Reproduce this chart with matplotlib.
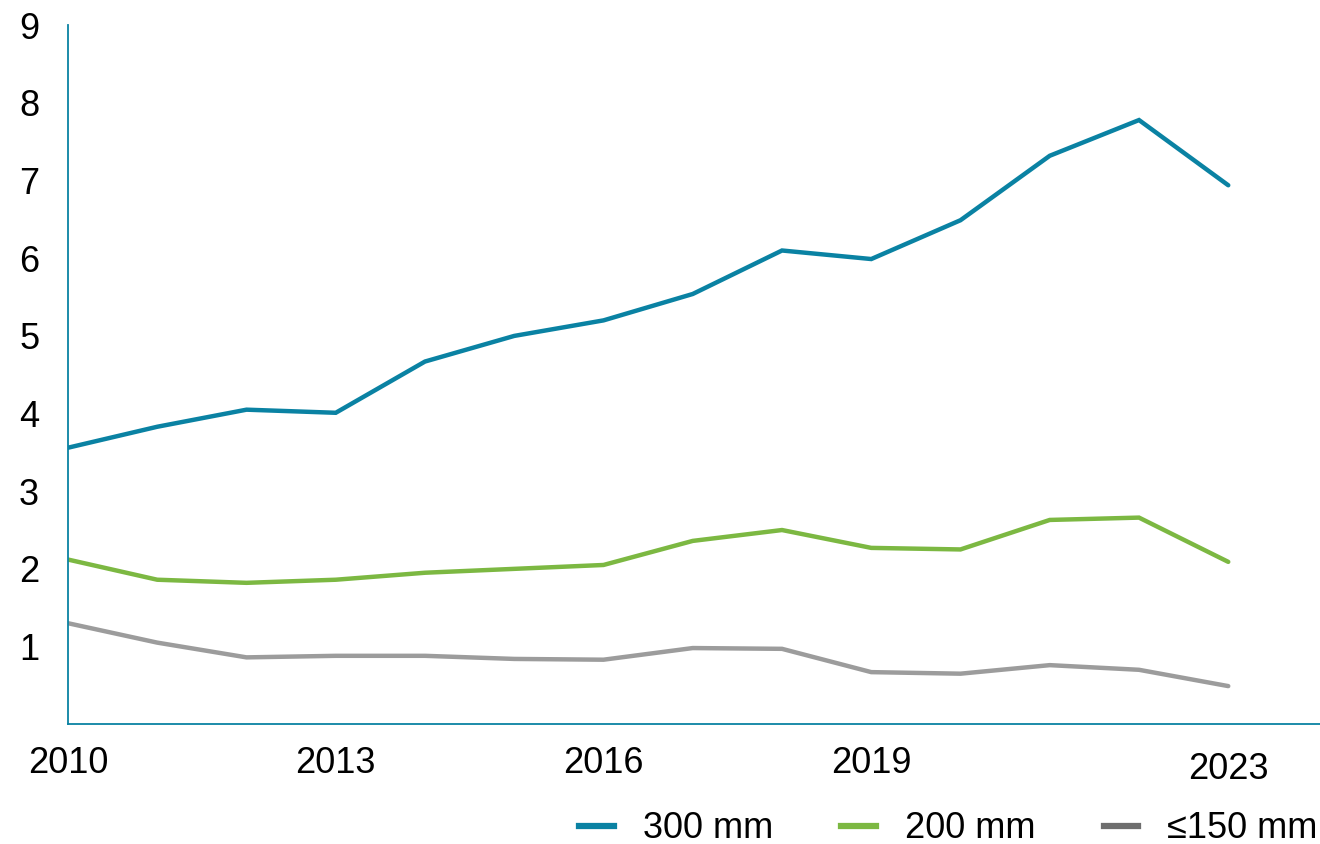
import matplotlib.pyplot as plt

years = list(range(2010, 2024))
mm300 = [3.56, 3.83, 4.05, 4.01, 4.67, 5.00, 5.20, 5.54, 6.10, 5.99, 6.49, 7.32, 7.78, 6.94]
mm200 = [2.12, 1.86, 1.82, 1.86, 1.95, 2.00, 2.05, 2.36, 2.50, 2.27, 2.25, 2.63, 2.66, 2.09]
mm150 = [1.30, 1.05, 0.86, 0.88, 0.88, 0.84, 0.83, 0.98, 0.97, 0.67, 0.65, 0.76, 0.70, 0.49]
labels = ['300 mm', '200 mm', '≤150 mm']
colors = ['#0a82a3', '#7cb842', '#9c9c9c']

plt.rcParams['font.family'] = ['Liberation Sans', 'DejaVu Sans']

fig = plt.figure(figsize=(13.2, 8.44), dpi=100)
ax = fig.add_axes([0.0515, 0.142, 0.95, 0.828])

for vals, lab, c in zip([mm300, mm200, mm150], labels, colors):
    ax.plot(years, vals, color=c, lw=3.2, solid_capstyle='round', solid_joinstyle='miter', label=lab)

ax.set_xlim(2010, 2024.05)
ax.set_ylim(0, 9)
ax.set_yticks(range(1, 10))
ax.set_xticks([2010, 2013, 2016, 2019, 2023])
ax.tick_params(length=0, labelsize=26)
for lbl in ax.get_yticklabels():
    lbl.set_horizontalalignment('center')
ax.yaxis.set_tick_params(pad=28)
ax.xaxis.set_tick_params(pad=16)
ax.xaxis.get_major_ticks()[-1].set_pad(20)

for s in ['top', 'right']:
    ax.spines[s].set_visible(False)
for s in ['left', 'bottom']:
    ax.spines[s].set_color('#0a82a3')
    ax.spines[s].set_linewidth(1.3)

handles = [plt.Line2D([], [], color=c, lw=4.5) for c in ['#0a82a3', '#7cb842', '#6e6e6e']]
fig.legend(handles, labels, loc='center right', bbox_to_anchor=(0.998, 0.018), ncol=3,
           frameon=False, fontsize=26, handlelength=0.95, handletextpad=0.8,
           columnspacing=1.9, borderpad=0, borderaxespad=0)

fig.savefig('out.png', dpi=100)
